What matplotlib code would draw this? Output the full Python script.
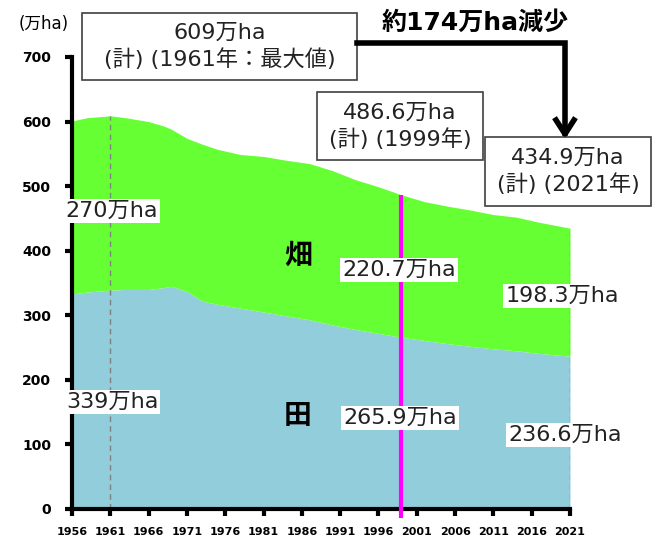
import matplotlib.pyplot as plt
from matplotlib.patches import Rectangle
from matplotlib.lines import Line2D

plt.rcParams['font.family'] = ['DejaVu Sans', 'Noto Sans CJK JP']

# 耕地面積 (万ha)
years = [1956, 1958, 1961, 1963, 1966, 1968, 1969, 1971, 1973, 1975, 1978, 1981,
         1984, 1987, 1990, 1993, 1996, 1999, 2002, 2005, 2008, 2011, 2014, 2017, 2021]
total = [601, 606, 609, 606, 600, 593, 588, 574, 565, 557, 549, 546,
         540, 535, 524, 510, 499, 486.6, 476, 469, 463, 456, 452, 444, 434.9]
paddy = [333, 336, 339, 340, 340, 343, 345, 337, 322, 317, 311, 305,
         299, 293, 285, 278, 272, 265.9, 261, 256, 252, 248, 245, 241, 236.6]

xticks = list(range(1956, 2022, 5))
yticks = list(range(0, 701, 100))

W, H = 660, 543
fig = plt.figure(figsize=(W / 100, H / 100), dpi=100)
ax = fig.add_axes([72 / W, 1 - 509 / H, (570 - 72) / W, (509 - 57) / H])

def fx(px):
    return px / W

def fy(py):
    return 1 - py / H

# 田 / 畑 の積み上げ
ax.fill_between(years, 0, paddy, color='#92CDDC', lw=0)
ax.fill_between(years, paddy, total, color='#66FF33', lw=0)

# 補助線
ax.vlines([1961, 2021], 0, [total[2], total[-1]], colors='#808080',
          linestyles=(0, (4, 3)), lw=1)
ax.vlines(1999, -14, total[17], colors='#FF00FF', lw=3, clip_on=False, zorder=5)

ax.set_xlim(1956, 2021)
ax.set_ylim(0, 700)
ax.set_xticks(xticks)
ax.set_yticks(yticks)
ax.set_xticklabels([str(v) for v in xticks], fontsize=8, fontweight='bold')
ax.set_yticklabels([str(v) for v in yticks], fontsize=10, fontweight='bold')
for s in ['top', 'right']:
    ax.spines[s].set_visible(False)
for s in ['left', 'bottom']:
    ax.spines[s].set_linewidth(3)
ax.tick_params(axis='both', direction='out', length=5, width=3)
ax.tick_params(axis='y', pad=10)
ax.tick_params(axis='x', pad=8)

fig.text(fx(44), fy(24), '(万ha)', fontsize=12, ha='center', va='center')

# 枠付きの注記
boxes = [
    (82, 13, 357, 80, '609万ha\n(計) (1961年：最大値)'),
    (317, 92, 483, 160, '486.6万ha\n(計) (1999年)'),
    (485, 137, 651, 206, '434.9万ha\n(計) (2021年)'),
]
for x0, y0, x1, y1, txt in boxes:
    fig.add_artist(Rectangle((fx(x0), fy(y1)), fx(x1) - fx(x0), fy(y0) - fy(y1),
                             transform=fig.transFigure, facecolor='white',
                             edgecolor='#404040', lw=1.2, zorder=6))
    fig.text(fx((x0 + x1) / 2), fy((y0 + y1) / 2), txt, fontsize=16, ha='center',
             va='center', linespacing=1.3, color='#222222', zorder=7)

fig.text(fx(475), fy(23), '約174万ha減少', fontsize=18, fontweight='bold',
         ha='center', va='center')

# 減少の矢印
fig.add_artist(Line2D([fx(357), fx(565), fx(565)], [fy(43), fy(43), fy(133)],
                      transform=fig.transFigure, color='black', lw=4,
                      solid_joinstyle='miter', zorder=6))
fig.add_artist(Line2D([fx(556), fx(565), fx(574)], [fy(120), fy(134), fy(120)],
                      transform=fig.transFigure, color='black', lw=4, zorder=6))

# 白地のラベル
labels = [
    (112, 211, '270万ha'),
    (112, 402, '339万ha'),
    (399, 270, '220.7万ha'),
    (400, 418, '265.9万ha'),
    (562, 296, '198.3万ha'),
    (565, 435, '236.6万ha'),
]
for px, py, txt in labels:
    fig.text(fx(px), fy(py), txt, fontsize=16, ha='center', va='center',
             color='#222222', zorder=7,
             bbox=dict(facecolor='white', edgecolor='none', pad=1.5))

fig.text(fx(298), fy(256), '畑', fontsize=20, fontweight='bold', ha='center', va='center')
fig.text(fx(298), fy(416), '田', fontsize=20, fontweight='bold', ha='center', va='center')

fig.savefig('out.png', dpi=100)
